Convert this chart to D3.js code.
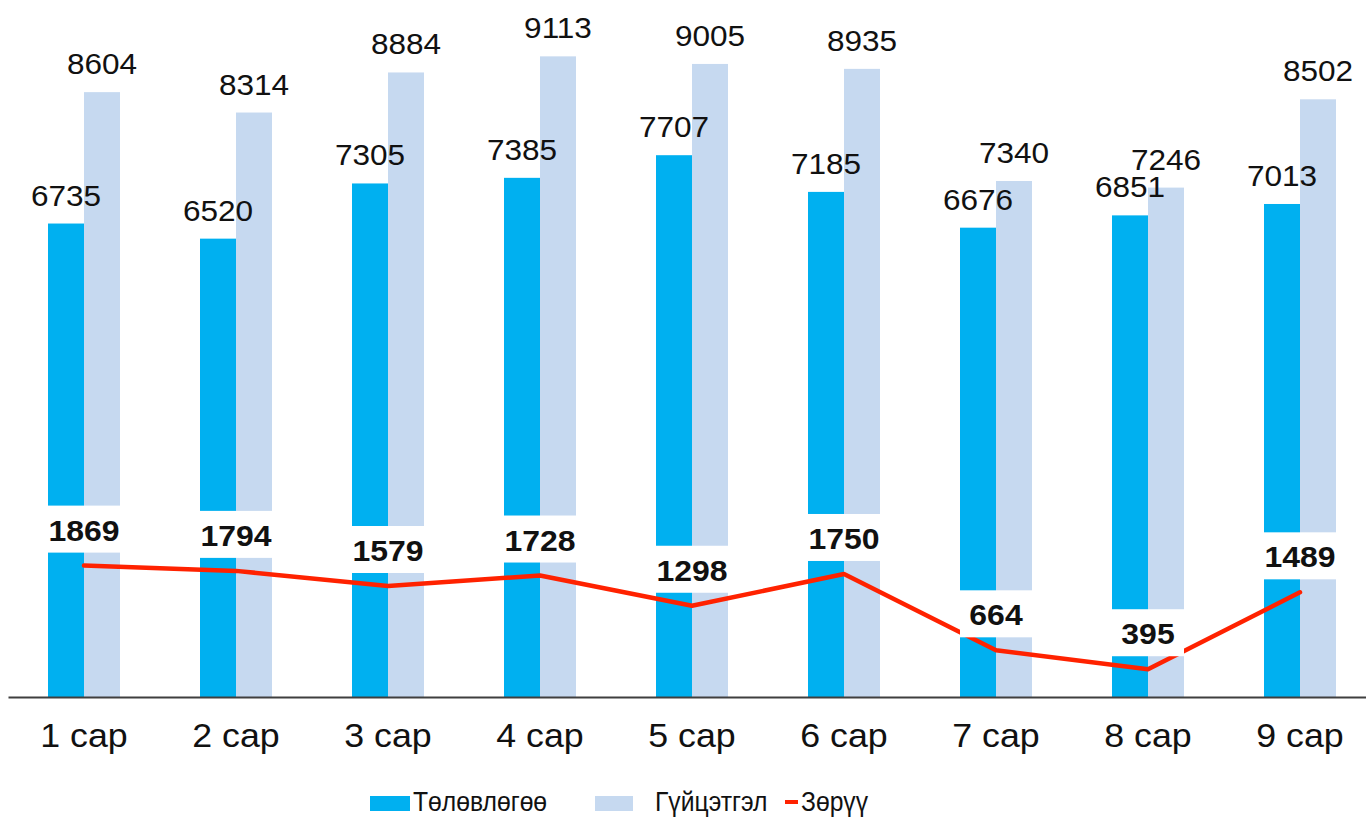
<!DOCTYPE html>
<html>
<head>
<meta charset="utf-8">
<script src="https://cdn.jsdelivr.net/npm/d3@7"></script>
<style>
  body { margin: 0; background: #fff; }
  svg { display: block; font-family: 'Liberation Sans', Arial, sans-serif; }
</style>
</head>
<body>
<svg id="chart" width="1366" height="820"></svg>
<script>
const months = ['1 сар', '2 сар', '3 сар', '4 сар', '5 сар', '6 сар', '7 сар', '8 сар', '9 сар']
const plan = [6735, 6520, 7305, 7385, 7707, 7185, 6676, 6851, 7013]
const actual = [8604, 8314, 8884, 9113, 9005, 8935, 7340, 7246, 8502]
const diff = [1869, 1794, 1579, 1728, 1298, 1750, 664, 395, 1489]
const seriesNames = ['Төлөвлөгөө', 'Гүйцэтгэл', 'Зөрүү']

const colors = { plan: '#00b0f0', actual: '#c6d9f0', diff: '#ff2200' }

const svg = d3.select('#chart')

const x = d3.scaleBand().domain(months).range([8, 1376]).padding(0)
const inner = d3.scaleBand().domain(['plan', 'actual']).range([0, 72])
const groupOffset = (x.bandwidth() - 72) / 2
const y = d3.scaleLinear().domain([0, 10000]).range([697, -6])

const bars = months.flatMap((m, i) => [
  { m, key: 'plan', v: plan[i] },
  { m, key: 'actual', v: actual[i] },
])
const barX = (d) => x(d.m) + groupOffset + inner(d.key)

// Bars
svg.append('g')
  .selectAll('rect')
  .data(bars)
  .enter()
  .append('rect')
  .attr('x', barX)
  .attr('y', (d) => y(d.v))
  .attr('width', inner.bandwidth())
  .attr('height', (d) => y(0) - y(d.v))
  .attr('fill', (d) => colors[d.key])

// Bar labels
svg.append('g')
  .selectAll('text')
  .data(bars)
  .enter()
  .append('text')
  .attr('transform', (d) => `translate(${barX(d) + inner.bandwidth() / 2},${y(d.v) - 18}) scale(1.07,1)`)
  .attr('text-anchor', 'middle')
  .attr('font-size', 29.5)
  .attr('fill', '#111')
  .text((d) => d.v)

// Axis
const axis = svg.append('g')
  .attr('transform', `translate(0,${y(0)})`)
  .call(d3.axisBottom(x).tickSize(0).tickPadding(27))
axis.select('.domain').attr('stroke', '#3f3f3f').attr('stroke-width', 2)
axis.selectAll('text')
  .attr('font-size', 32.5)
  .attr('transform', 'scale(1.1,1)')
  .attr('font-family', "'Liberation Sans', Arial, sans-serif")
  .attr('fill', '#111')

// Difference line
const cx = (m) => x(m) + x.bandwidth() / 2
const pts = months.map((m, i) => ({ m, v: diff[i] }))
svg.append('path')
  .datum(pts)
  .attr('fill', 'none')
  .attr('stroke', colors.diff)
  .attr('stroke-width', 4.5)
  .attr('stroke-linejoin', 'round')
  .attr('stroke-linecap', 'round')
  .attr('d', d3.line().x((d) => cx(d.m)).y((d) => y(d.v)))

// Difference labels with white boxes
const lbl = svg.append('g')
  .selectAll('g')
  .data(pts)
  .enter()
  .append('g')
  .attr('transform', (d) => `translate(${cx(d.m)},${y(d.v) - 13})`)
lbl.append('rect')
  .attr('x', -36)
  .attr('y', -47)
  .attr('width', 72)
  .attr('height', 47)
  .attr('fill', '#fff')
lbl.append('text')
  .attr('transform', 'translate(0,-12) scale(1.065,1)')
  .attr('text-anchor', 'middle')
  .attr('font-size', 30)
  .attr('font-weight', 'bold')
  .attr('fill', '#111')
  .text((d) => d.v)

// Legend
const legend = svg.append('g').attr('font-size', 27).attr('fill', '#111')
const legendText = (tx, s) => legend.append('text')
  .attr('transform', `translate(${tx},811) scale(0.915,1)`)
  .text(s)
legend.append('rect').attr('x', 370).attr('y', 796).attr('width', 40).attr('height', 15).attr('fill', colors.plan)
legendText(413, seriesNames[0])
legend.append('rect').attr('x', 595).attr('y', 796).attr('width', 38).attr('height', 15).attr('fill', colors.actual)
legendText(655, seriesNames[1])
legend.append('line').attr('x1', 785).attr('x2', 798).attr('y1', 802).attr('y2', 802)
  .attr('stroke', colors.diff).attr('stroke-width', 4)
legendText(801, seriesNames[2])
</script>
</body>
</html>
